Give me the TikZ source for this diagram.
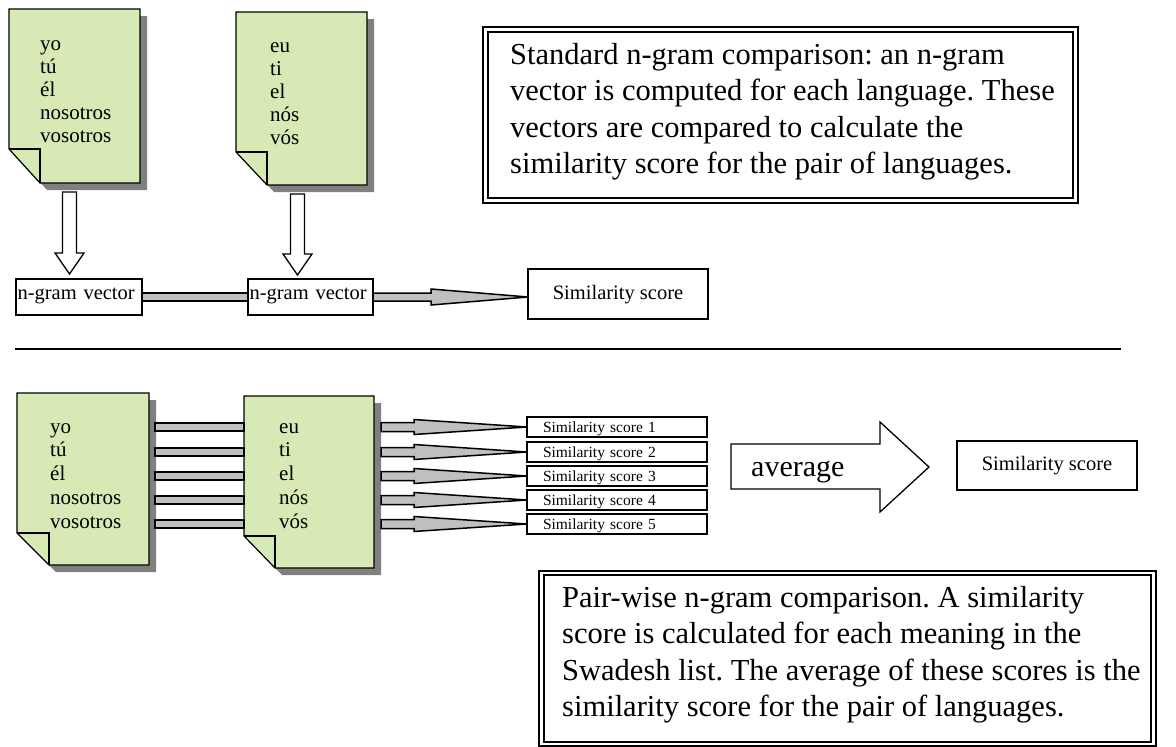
\documentclass[tikz,border=0pt]{standalone}
\usepackage{fontspec}
\setmainfont{Liberation Serif}
\usetikzlibrary{calc}
\definecolor{docgreen}{RGB}{215,233,181}
\definecolor{shadowgray}{RGB}{128,128,128}
\definecolor{bargray}{RGB}{192,192,192}
\frenchspacing
% #1 node, #2 fold width, #3 fold height
\newcommand\drawdoc[3]{%
  \fill[shadowgray] ([shift={(7,7)}]#1.north west) -- ([shift={(7,7)}]#1.north east) -- ([shift={(7,7)}]#1.south east) -- ([shift={(7+#2,7)}]#1.south west) -- ([shift={(7,7-#3)}]#1.south west) -- cycle;
  \filldraw[fill=docgreen, draw=black, line width=1.2] (#1.north west) -- (#1.north east) -- (#1.south east) -- ([xshift=#2pt]#1.south west) -- ([shift={(0,-#3)}]#1.south west) -- cycle;
  \draw[line width=1.2] ([shift={(0,-#3)}]#1.south west) -- ([shift={(#2,-#3)}]#1.south west) -- ([xshift=#2pt]#1.south west);
}
% #1 top coordinate, #2 tip coordinate (same x)
\newcommand\hollowdown[2]{%
  \draw[line width=1.3, fill=white] ([xshift=-7pt]#1) -- ([xshift=7pt]#1) -- ([shift={(7,-21)}]#2) -- ([shift={(14.5,-21)}]#2) -- (#2) -- ([shift={(-14.5,-21)}]#2) -- ([shift={(-7,-21)}]#2) -- cycle;
}
% #1 start, #2 tip (same y), #3 shaft half, #4 head half, #5 head length
\newcommand\grayarrow[5]{%
  \draw[bar] ([yshift=#3pt]#1) -- ([xshift=-#5pt,yshift=#3pt]#2) -- ([xshift=-#5pt,yshift=#4pt]#2) -- (#2) -- ([xshift=-#5pt,yshift=-#4pt]#2) -- ([xshift=-#5pt,yshift=-#3pt]#2) -- ([yshift=-#3pt]#1) -- cycle;
}
\tikzset{
  x=1pt, y=-1pt,
  docnode/.style={anchor=north west, inner sep=0pt, outer sep=0pt},
  doctext/.style={anchor=north west, inner sep=0pt, align=left},
  bar/.style={fill=bargray, draw=black, line width=1.5},
  vecbox/.style={draw, line width=1.3, inner sep=0pt, inner xsep=1.5pt, align=left, minimum height=36pt, font=\fontsize{20.5}{24}\selectfont, text height=12pt, text depth=8pt, outer sep=0pt},
  simbox/.style={draw, line width=1.3, inner sep=0pt, minimum width=180pt, font=\fontsize{20.5}{24}\selectfont, text height=15pt, text depth=5pt, outer sep=0pt},
  smallbox/.style={draw, line width=1.4, inner sep=0pt, inner xsep=16pt, text width=148pt, align=left, minimum height=20pt, font=\fontsize{15.5}{18}\selectfont, text height=12pt, text depth=2pt, outer sep=0pt},
  para/.style={anchor=north west, inner sep=0pt, align=left, font=\fontsize{30.5}{36.5}\selectfont},
}
\begin{document}
\begin{tikzpicture}
\useasboundingbox (0,0) rectangle (1176,747);
% ---------- top part ----------
\node[docnode, minimum width=131pt, minimum height=174pt] (d1) at (9,9) {};
\drawdoc{d1}{31}{34}
\node[doctext, font=\fontsize{21}{23}\selectfont] (t1) at (40,30) {\rule{0pt}{20pt}yo\\tú\\él\\nosotros\\vosotros};
\node[docnode, minimum width=131pt, minimum height=173pt] (d2) at (236,12) {};
\drawdoc{d2}{31}{33}
\node[doctext, font=\fontsize{21}{23}\selectfont] (t2) at (270,32) {\rule{0pt}{20pt}eu\\ti\\el\\nós\\vós};

\node[vecbox, text width=123pt] (v1) at (79,297) {n-gram vector};
\node[vecbox, text width=122pt] (v2) at (310.5,297) {n-gram vector};
\node[simbox, minimum height=50pt] (s0) at (618,294) {Similarity score};

\coordinate (a1t) at ($(d1.south)+(-5,9)$);
\coordinate (a1b) at ($(a1t |- v1.north)+(0,-5)$);
\hollowdown{a1t}{a1b}
\coordinate (a2t) at ($(d2.south)+(-4,9)$);
\coordinate (a2b) at ($(a2t |- v2.north)+(0,-4)$);
\hollowdown{a2t}{a2b}

\draw[bar] ([yshift=4pt]v1.east) rectangle ([yshift=-4pt]v2.west);
\coordinate (e0) at (v2.east -| s0.west);
\grayarrow{v2.east}{e0}{4}{8}{97}

% text box top
\draw[line width=2] (483,27) rectangle (1078,203);
\draw[line width=1.3] (488,32) rectangle (1073,198);
\node[para] (ptop) at (510,40) {\rule{0pt}{24pt}Standard n-gram comparison: an n-gram\\vector is computed for each language. These\\vectors are compared to calculate the\\similarity score for the pair of languages.};

% separator
\draw[line width=1.8] (15,349) -- (1121,349);

% ---------- bottom part ----------
\node[docnode, minimum width=132pt, minimum height=172pt] (d3) at (17,393) {};
\drawdoc{d3}{32}{32}
\node[doctext, font=\fontsize{21}{23.75}\selectfont] (t3) at (50,413) {\rule{0pt}{20pt}yo\\tú\\él\\nosotros\\vosotros};
\node[docnode, minimum width=130pt, minimum height=172pt] (d4) at (244,396) {};
\drawdoc{d4}{31}{32}
\node[doctext, font=\fontsize{21}{23.75}\selectfont] (t4) at (279,413) {\rule{0pt}{20pt}eu\\ti\\el\\nós\\vós};

\node[smallbox] (s1) at (617,427) {Similarity score 1};
\node[smallbox] (s2) at (617,452) {Similarity score 2};
\node[smallbox] (s3) at (617,476) {Similarity score 3};
\node[smallbox] (s4) at (617,500) {Similarity score 4};
\node[smallbox] (s5) at (617,524) {Similarity score 5};

\foreach \i in {1,...,5}{
  \coordinate (p\i) at ($(d3.east |- s\i.west)+(6,0)$);
  \coordinate (q\i) at (d4.west |- s\i.west);
  \draw[bar] ([yshift=4pt]p\i) rectangle ([yshift=-4pt]q\i);
  \coordinate (r\i) at ($(d4.east |- s\i.west)+(7,0)$);
  \grayarrow{r\i}{s\i.west}{4.5}{7.5}{113}
}

% average arrow
\draw[line width=1.3] (731,444) -- (880,444) -- (880,422) -- (929,467) -- (880,512) -- (880,489) -- (731,489) -- cycle;
\node[anchor=base west, inner sep=0pt, font=\fontsize{30}{36}\selectfont] (avg) at (751,476) {average};
\node[simbox, minimum height=49pt] (s6) at (1047,465.5) {Similarity score};

% text box bottom
\draw[line width=2] (539,571) rectangle (1156,746);
\draw[line width=1.3] (544,575) rectangle (1151,742);
\node[para] (pbot) at (562,583) {\rule{0pt}{24pt}Pair-wise n-gram comparison. A similarity\\score is calculated for each meaning in the\\Swadesh list. The average of these scores is the\\similarity score for the pair of languages.};
\end{tikzpicture}
\end{document}
